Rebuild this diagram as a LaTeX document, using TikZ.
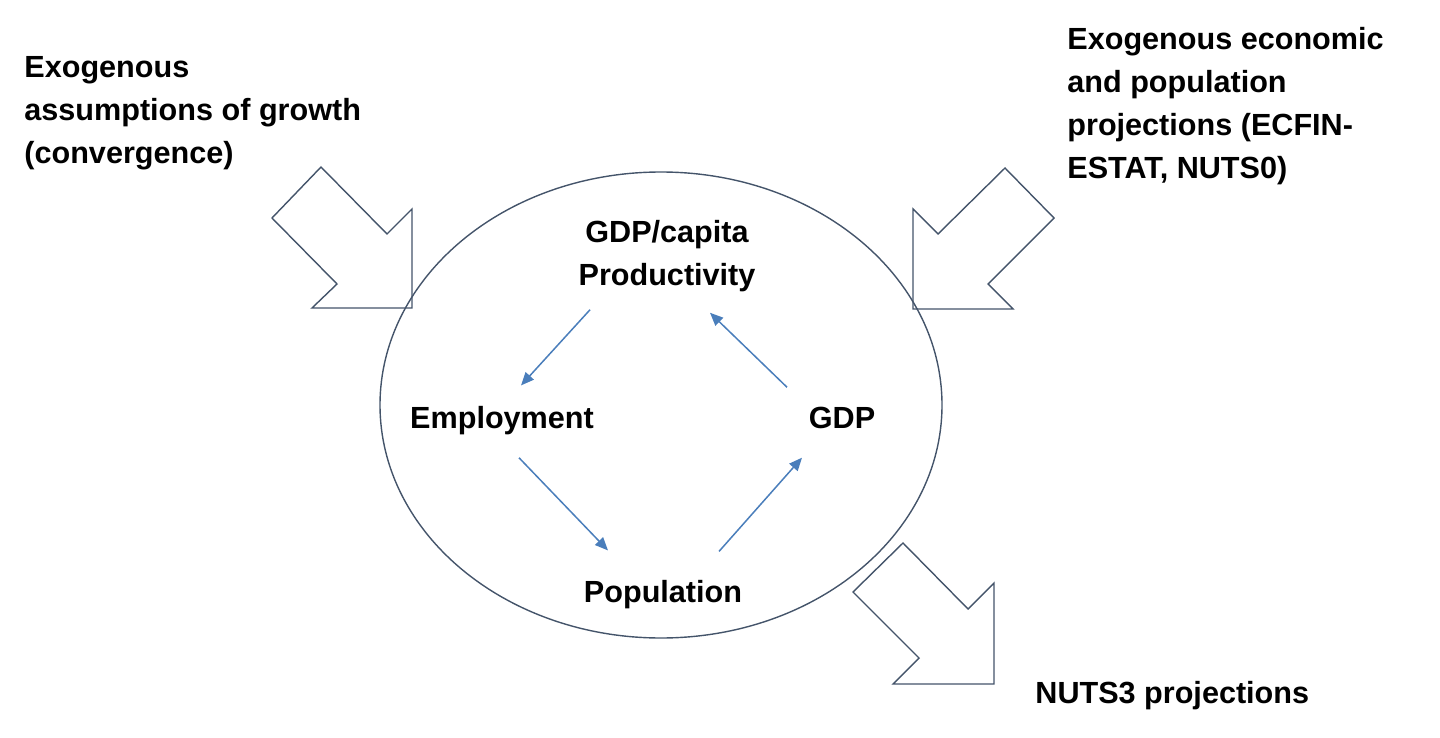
\documentclass[tikz,border=0pt]{standalone}
\usepackage{fontspec}
\setmainfont{Liberation Sans}
\usepackage{xcolor}
\usepackage{tikz}
\usetikzlibrary{calc, positioning, arrows.meta, shapes}
\definecolor{outline}{HTML}{44546A}
\definecolor{flowblue}{HTML}{4A7EBB}
\tikzset{
	x=.5pt, y=-.5pt,
	font = \fontsize{15.3}{21.5}\selectfont\bfseries,
	label/.style={
		inner sep=0pt,
		anchor=base
	},
	block/.style={
		inner sep=0pt,
		anchor=base west,
		align=left
	},
	flow/.style={
		->,
		draw=flowblue,
		line width=.75pt,
		>={Triangle[length=6.5pt, width=5.5pt]}
	},
	bigarrow/.style={
		draw=outline,
		fill=white,
		line width=.7pt,
		line join=miter
	}
}

\begin{document}
\begin{tikzpicture}
\useasboundingbox (0,0) rectangle (1440,738);

% inputs and output
\node[block] (growth) at (24,163) {Exogenous\\assumptions of growth\\(convergence)};
\node[block] (ecfin) at (1067,178) {Exogenous economic\\and population\\projections (ECFIN-\\ESTAT, NUTS0)};
\node[block] (nuts3) at (1035,703) {NUTS3 projections};

\draw[bigarrow] (321,167) -- (387,234) -- (412,209) -- (412,308) -- (312,308) -- (337,284) -- (272,218) -- cycle;
\draw[bigarrow] (1005,168) -- (1054,218) -- (988,284) -- (1013,309) -- (913,309) -- (913,209) -- (938,234) -- cycle;
\draw[bigarrow] (903,543) -- (968,609) -- (994,583) -- (994,684) -- (893,684) -- (919,658) -- (853,592) -- cycle;

% model core
\draw[outline, line width=.7pt] (661,405) ellipse [x radius=281, y radius=233];

\node[label, align=center] (gdpcap) at (667,285) {GDP/capita\\Productivity};
\node[label] (employ) at (502,428) {Employment};
\node[label] (gdp) at (842,428) {GDP};
\node[label] (popul) at (663,602) {Population};

\draw[flow] ([shift={(-77,18)}]gdpcap.south) -- ([shift={(19,-20)}]employ.north);
\draw[flow] ([shift={(17,23)}]employ.south) -- ([shift={(-55,-29)}]popul.north);
\draw[flow] ([shift={(56,-28)}]popul.north) -- ([shift={(-40,29)}]gdp.south);
\draw[flow] ([shift={(-55,-19)}]gdp.north) -- ([shift={(43,21)}]gdpcap.south);
\end{tikzpicture}
\end{document}
